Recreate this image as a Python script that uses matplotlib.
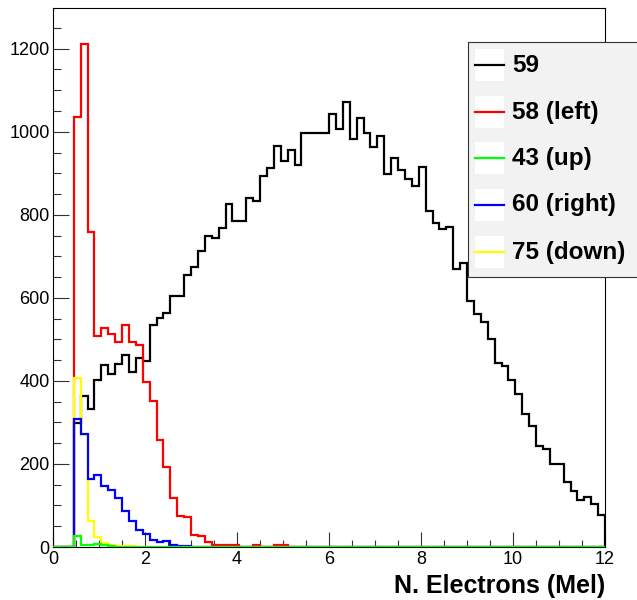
import numpy as np
import matplotlib
matplotlib.use('Agg')
import matplotlib.pyplot as plt
from matplotlib.patches import Rectangle
from matplotlib.lines import Line2D

plt.rcParams['font.family'] = ['Liberation Sans', 'DejaVu Sans']

# 80 bins of width 0.15 between 0 and 12
edges = np.linspace(0, 12, 81)

h59 = [0, 0, 0, 298, 364, 333, 402, 439, 416, 441,
       462, 422, 456, 447, 535, 551, 564, 605, 605, 654,
       674, 714, 748, 745, 769, 826, 784, 784, 841, 833,
       893, 913, 965, 929, 957, 921, 998, 998, 998, 998,
       1042, 1006, 1072, 982, 1032, 996, 963, 990, 899, 936,
       909, 887, 869, 915, 808, 780, 767, 771, 669, 685,
       593, 560, 542, 502, 442, 435, 402, 369, 321, 291,
       243, 235, 201, 199, 157, 135, 114, 120, 104, 76]

h58 = [0, 0, 0, 1035, 1212, 758, 507, 528, 512, 493,
       535, 493, 487, 398, 352, 258, 193, 117, 75, 72,
       29, 27, 13, 6, 4, 4, 4, 0, 0, 4,
       0, 0, 4, 4] + [0] * 46

h43 = [0, 0, 0, 27, 6, 5, 8, 4, 2, 1] + [0] * 70

h60 = [0, 0, 0, 308, 271, 163, 173, 147, 137, 119,
       87, 63, 42, 32, 17, 11, 15, 5, 2, 2,
       1] + [0] * 59

h75 = [0, 0, 0, 406, 270, 62, 24, 10, 4, 3,
       3, 2] + [0] * 68

labels = ['59', '58 (left)', '43 (up)', '60 (right)', '75 (down)']
colors = ['black', '#ff0000', '#00ff00', '#0000ff', '#ffff00']

fig = plt.figure(figsize=(6.37, 6.00), dpi=100)
ax = fig.add_axes([53/637, 53/600, 552/637, 539/600])

lw = 1.6
ax.stairs(h59, edges, color=colors[0], lw=lw, zorder=2)
ax.stairs(h58, edges, color=colors[1], lw=lw, zorder=3)
ax.stairs(h75, edges, color=colors[4], lw=lw, zorder=4)
ax.stairs(h60, edges, color=colors[3], lw=lw, zorder=5)
ax.stairs(h43, edges, color=colors[2], lw=lw, zorder=6)

ax.set_xlim(0, 12)
ax.set_ylim(0, 1298)
ax.set_xticks(np.arange(0, 13, 2))
ax.set_xticks(np.arange(0, 12.01, 0.5), minor=True)
ax.set_yticks(np.arange(0, 1201, 200))
ax.set_yticks(np.arange(0, 1298, 50), minor=True)
ax.tick_params(which='both', direction='in', top=False, right=False,
               labelsize=13, width=0.8, color='#333333')
ax.tick_params(axis='y', which='major', length=11.5, pad=2.5)
ax.tick_params(axis='y', which='minor', length=6)
ax.tick_params(axis='x', which='major', length=10.5, pad=3)
ax.tick_params(axis='x', which='minor', length=5)
for s in ax.spines.values():
    s.set_linewidth(0.8)

ax.set_xlabel('N. Electrons (Mel)', fontsize=18, fontweight='bold',
              loc='right', labelpad=4)

# legend box, ROOT style, running off the right edge
x0, y0, y1 = 468, 42, 277
fig.patches.append(Rectangle((x0/637, (600-y1)/600), (660-x0)/637, (y1-y0)/600,
                             transform=fig.transFigure, facecolor='#f2f2f2',
                             edgecolor='#333333', lw=0.8, zorder=10))
ys = [65, 112, 158, 205, 252]
for lab, col, yc in zip(labels, colors, ys):
    fig.patches.append(Rectangle((475/637, (600-yc-16)/600), 29/637, 32/600,
                                 transform=fig.transFigure, facecolor='white',
                                 edgecolor='none', zorder=11))
    fig.lines.append(Line2D([475/637, 504/637], [(600-yc)/600]*2,
                            transform=fig.transFigure, color=col, lw=1.6, zorder=12))
    fig.text(512/637, (600-yc)/600, lab, fontsize=17.5, fontweight='bold',
             va='center', ha='left', zorder=13)

fig.savefig('out.png', dpi=100)
